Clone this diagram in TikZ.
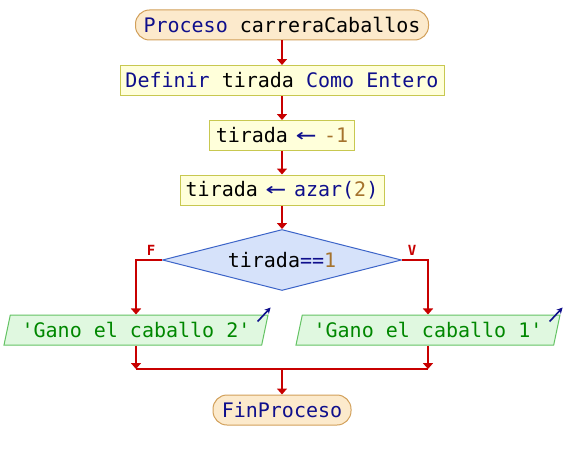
\documentclass[tikz,border=0pt]{standalone}
\usepackage{fontspec}
\newfontfamily\codefont{DejaVu Sans Mono}
\usetikzlibrary{shapes.geometric,arrows.meta,calc}
\definecolor{kw}{RGB}{15,15,140}
\definecolor{num}{RGB}{165,115,45}
\definecolor{str}{RGB}{0,135,0}
\definecolor{flowred}{RGB}{200,0,0}
\definecolor{termfill}{RGB}{252,234,204}
\definecolor{termline}{RGB}{210,160,90}
\definecolor{procfill}{RGB}{255,255,218}
\definecolor{procline}{RGB}{200,200,80}
\definecolor{condfill}{RGB}{214,226,250}
\definecolor{condline}{RGB}{60,100,200}
\definecolor{iofill}{RGB}{224,248,224}
\definecolor{ioline}{RGB}{100,195,100}
\newcommand{\asg}{\textcolor{kw}{\makebox[12pt]{\scalebox{1.7}[1.15]{←}}}}
\tikzset{
  base/.style={font=\codefont\fontsize{20}{24}\selectfont, inner sep=0pt, line width=1pt},
  term/.style={base, draw=termline, fill=termfill, rounded corners=14pt, minimum height=30pt},
  proc/.style={base, draw=procline, fill=procfill, minimum height=30pt},
  cond/.style={base, diamond, aspect=3.92, draw=condline, fill=condfill, minimum width=239pt, minimum height=61pt},
  io/.style={base, trapezium, trapezium left angle=68, trapezium right angle=112, trapezium stretches body, draw=ioline, fill=iofill, minimum width=264pt, minimum height=30pt},
  flowline/.style={draw=flowred, line width=2pt},
  flow/.style={flowline, -{Triangle[length=6pt,width=10pt]}},
  lbl/.style={font=\codefont\bfseries\fontsize{14}{16}\selectfont, text=flowred, inner sep=0pt},
  icon/.style={draw=kw, line width=1.6pt, -{Stealth[length=6pt,width=6pt]}}
}
\begin{document}
\begin{tikzpicture}[x=1pt,y=-1pt]
\fill[white] (0,0) rectangle (564,460);
\useasboundingbox (0,0) rectangle (564,460);
\node[term, minimum width=293pt] (start) at (282,25) {\textcolor{kw}{Proceso} carreraCaballos};
\node[proc, minimum width=324pt] (def) at (282,80.5) {\textcolor{kw}{Definir} tirada \textcolor{kw}{Como Entero}};
\node[proc, minimum width=145pt] (t1) at (282,135.5) {tirada \asg{} \textcolor{num}{-1}};
\node[proc, minimum width=204pt] (t2) at (282,190) {tirada \asg{} \textcolor{kw}{azar(}\textcolor{num}{2}\textcolor{kw}{)}};
\node[cond] (cond) at (282,260) {tirada\textcolor{kw}{==}\textcolor{num}{1}};
\node[io] (out2) at (136,330) {\textcolor{str}{'Gano el caballo 2'}};
\node[io] (out1) at (428,330) {\textcolor{str}{'Gano el caballo 1'}};
\node[term, minimum width=138pt] (fin) at (282,410) {\textcolor{kw}{FinProceso}};
\node[lbl] (fl) at (151,250) {F};
\node[lbl] (vl) at (412,250) {V};
\coordinate (ml) at (136,369);
\coordinate (mr) at (428,369);
\coordinate (mm) at (282,369);
\draw[flow] (start.south) -- (def.north);
\draw[flow] (def.south) -- (t1.north);
\draw[flow] (t1.south) -- (t2.north);
\draw[flow] (t2.south) -- (cond.north);
\draw[flow] (cond.west) -| (out2.center |- out2.north);
\draw[flow] (cond.east) -| (out1.center |- out1.north);
\draw[flow] (out2.center |- out2.south) -- (ml);
\draw[flow] (out1.center |- out1.south) -- (mr);
\draw[flowline] (ml) -- (mr);
\draw[flow] (mm) -- (fin.north);
\draw[icon] ($(out2.top right corner)+(-11,7)$) -- ++(13,-14);
\draw[icon] ($(out1.top right corner)+(-11,7)$) -- ++(13,-14);
\end{tikzpicture}
\end{document}
